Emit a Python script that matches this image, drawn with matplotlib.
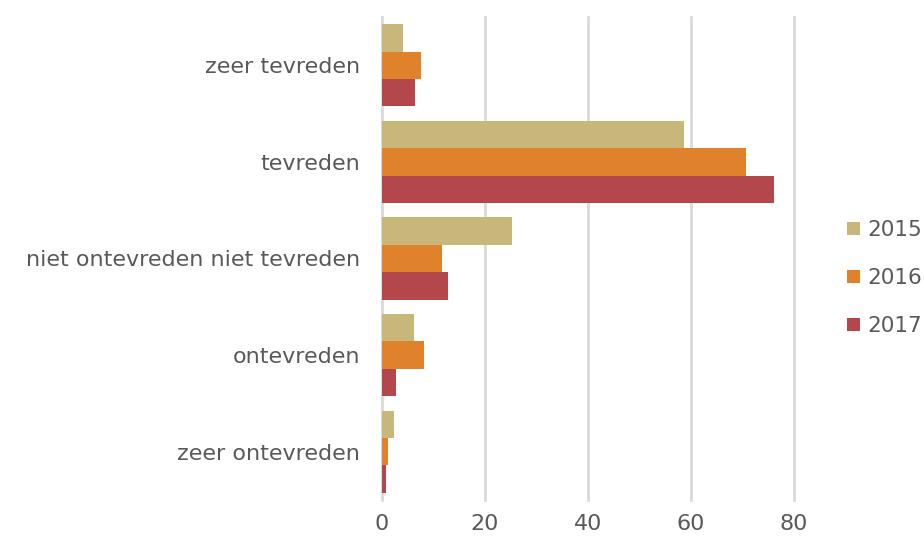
import matplotlib
matplotlib.use("Agg")
import matplotlib.pyplot as plt
import numpy as np

categories = ["zeer tevreden", "tevreden", "niet ontevreden niet tevreden",
              "ontevreden", "zeer ontevreden"]
years = ["2015", "2016", "2017"]
v2015 = [4.1, 58.6, 25.2, 6.2, 2.3]
v2016 = [7.6, 70.7, 11.7, 8.2, 1.2]
v2017 = [6.4, 76.1, 12.8, 2.7, 0.8]
colors = ["#C8B77A", "#E0822C", "#B3474C"]

plt.rcParams["font.family"] = ["DejaVu Sans"]
grey = "#595959"

fig = plt.figure(figsize=(9.24, 5.43), dpi=100)
ax = fig.add_axes([382 / 924, 1 - 500 / 543, 412 / 924, 483 / 543])

y = np.arange(len(categories))
h = 0.283
for i, (vals, c) in enumerate(zip([v2015, v2016, v2017], colors)):
    ax.barh(y + (i - 1) * h, vals, height=h, color=c, label=years[i], zorder=3)

ax.set_xlim(0, 80)
ax.set_ylim(len(categories) - 0.5, -0.5)
ax.set_xticks([0, 20, 40, 60, 80])
ax.set_yticks(y)
ax.set_yticklabels(categories)
ax.xaxis.grid(True, color="#D9D9D9", linewidth=2, zorder=0)
for line in ax.get_xgridlines():
    line.set_clip_on(False)
for s in ax.spines.values():
    s.set_visible(False)
ax.tick_params(axis="both", length=0, labelsize=16, colors=grey)
ax.tick_params(axis="x", pad=10)
ax.tick_params(axis="y", pad=16)

fig.legend(loc="center left", bbox_to_anchor=(847 / 924, 1 - 278 / 543),
           frameon=False, fontsize=15.5, labelcolor=grey, handlelength=0.6,
           handleheight=0.6, handletextpad=0.35, labelspacing=1.3,
           borderpad=0, borderaxespad=0)

fig.savefig("out.png", dpi=100)
